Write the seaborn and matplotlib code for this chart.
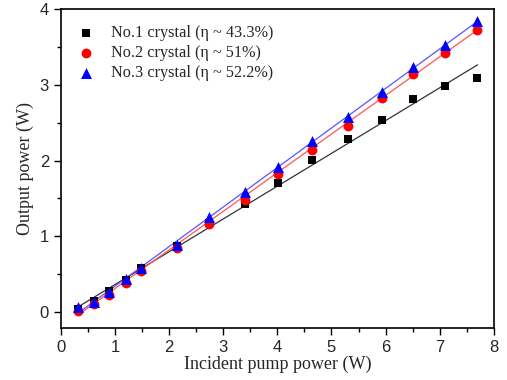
import numpy as np
import pandas as pd
import matplotlib
matplotlib.use("Agg")
import matplotlib.pyplot as plt
from matplotlib.ticker import MultipleLocator
import seaborn as sns

# ---- data ----
pump = [0.32, 0.62, 0.89, 1.20, 1.49, 2.14, 2.74, 3.41, 4.02, 4.64, 5.30, 5.94, 6.51, 7.10, 7.69]
out1 = [0.04, 0.15, 0.28, 0.42, 0.58, 0.87, 1.18, 1.43, 1.71, 2.01, 2.29, 2.54, 2.81, 2.98, 3.09]
out2 = [0.01, 0.11, 0.23, 0.38, 0.54, 0.85, 1.16, 1.48, 1.82, 2.14, 2.46, 2.83, 3.14, 3.42, 3.73]
out3 = [0.06, 0.13, 0.26, 0.43, 0.585, 0.88, 1.26, 1.59, 1.91, 2.26, 2.57, 2.91, 3.24, 3.52, 3.84]
labels = ["No.1 crystal (\u03b7 ~ 43.3%)", "No.2 crystal (\u03b7 ~ 51%)", "No.3 crystal (\u03b7 ~ 52.2%)"]
fit_slopes = [0.433, 0.51, 0.522]
fit_intercepts = [-0.07, -0.20, -0.18]
fit_range = [0.3, 7.7]

sns.set_style("ticks")
plt.rcParams["font.family"] = ["Liberation Sans", "DejaVu Sans"]
plt.rcParams["xtick.direction"] = "out"
plt.rcParams["ytick.direction"] = "out"

fig = plt.figure(figsize=(5.07, 3.80), dpi=100)
ax = fig.add_axes([0.120, 0.137, 0.854, 0.839])

series = [out1, out2, out3]
markers = ["s", "o", "^"]
msizes = [36, 50, 62]
pt_colors = ["black", "red", "blue"]
line_colors = ["#333333", "#ff5555", "#5555ff"]

for ys, lab, m, s, c, lc, k, b in zip(series, labels, markers, msizes, pt_colors,
                                     line_colors, fit_slopes, fit_intercepts):
    df = pd.DataFrame({"x": pump, "y": ys})
    fx = np.array(fit_range)
    fdf = pd.DataFrame({"x": fx, "y": k * fx + b})
    sns.lineplot(data=fdf, x="x", y="y", ax=ax, color=lc, linewidth=0.9, zorder=2)
    sns.scatterplot(data=df, x="x", y="y", ax=ax, marker=m, s=s, color=c,
                    edgecolor=c, linewidth=0, label=lab, zorder=3)

ax.set_xlim(0, 8)
ax.set_ylim(-0.21, 4)
ax.xaxis.set_major_locator(MultipleLocator(1))
ax.xaxis.set_minor_locator(MultipleLocator(0.5))
ax.yaxis.set_major_locator(MultipleLocator(1))
ax.yaxis.set_minor_locator(MultipleLocator(0.5))
ax.tick_params(which="major", length=5, width=1, labelsize=12, color="black")
ax.tick_params(which="minor", length=3, width=1, color="black")
for sp in ax.spines.values():
    sp.set_visible(True)
    sp.set_linewidth(1.2)
    sp.set_color("black")

ax.set_xlabel("Incident pump power (W)", family=["Liberation Serif", "DejaVu Serif"], fontsize=13, labelpad=1)
ax.set_ylabel("Output power (W)", family=["Liberation Serif", "DejaVu Serif"], fontsize=13, labelpad=4)

leg = ax.legend(loc="upper left", bbox_to_anchor=(0.003, 0.985), frameon=False,
                prop={"family": ["Liberation Serif", "DejaVu Serif"], "size": 11.7},
                handlelength=1.5, handletextpad=0.8, labelspacing=0.25, borderaxespad=0.3)

fig.savefig("out.png", dpi=100)
